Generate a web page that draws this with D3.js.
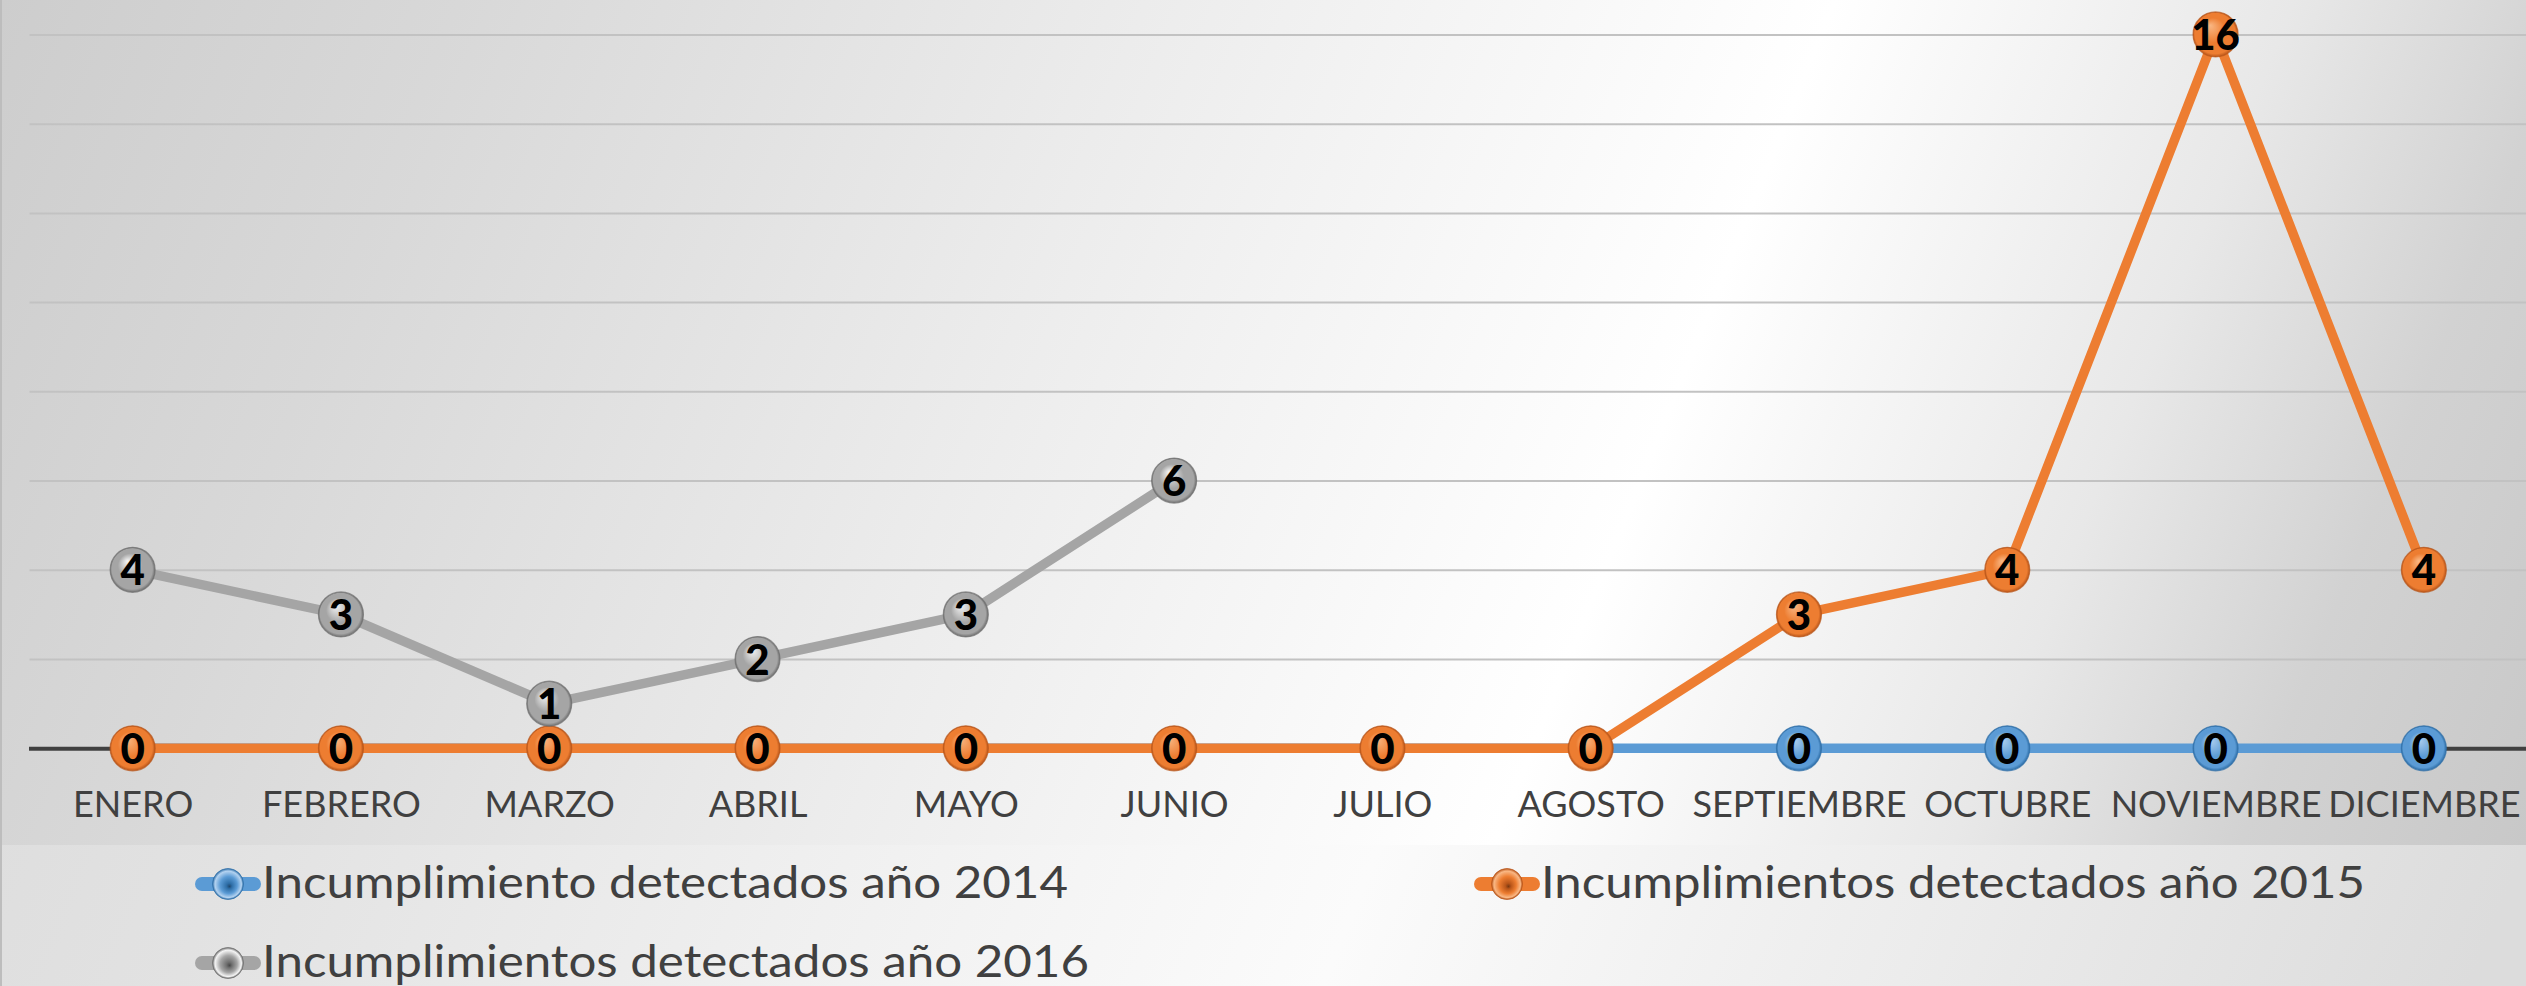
<!DOCTYPE html>
<html lang="es">
<head>
<meta charset="utf-8">
<title>Incumplimientos detectados por mes</title>
<script src="https://cdn.jsdelivr.net/npm/d3@7/dist/d3.min.js"></script>
<style>
  html, body { margin: 0; padding: 0; background: #ffffff; }
  svg { display: block; }
  .month-label { font-family: Lato, "Open Sans", sans-serif; font-size: 36px; fill: #404040; }
  .value-label { font-family: Lato, "Open Sans", sans-serif; font-size: 42px; font-weight: 900; fill: #000000; }
  .legend-label { font-family: Lato, "Open Sans", sans-serif; font-size: 45px; fill: #404040; }
</style>
</head>
<body>
<svg id="chart" width="2526" height="986"></svg>
<script>
// ---- Data ----
const months = ["ENERO", "FEBRERO", "MARZO", "ABRIL", "MAYO", "JUNIO",
                "JULIO", "AGOSTO", "SEPTIEMBRE", "OCTUBRE", "NOVIEMBRE", "DICIEMBRE"];
const values2014 = [0, 0, 0, 0, 0, 0, 0, 0, 0, 0, 0, 0];
const values2015 = [0, 0, 0, 0, 0, 0, 0, 0, 3, 4, 16, 4];
const values2016 = [4, 3, 1, 2, 3, 6, null, null, null, null, null, null];
const seriesNames = ["Incumplimiento detectados año 2014",
                     "Incumplimientos detectados año 2015",
                     "Incumplimientos detectados año 2016"];
const yTicks = [0, 2, 4, 6, 8, 10, 12, 14, 16];

// ---- Layout ----
const W = 2526, H = 986;
const plotLeft = 28.5, plotRight = 2528;
const plotTop = 34.4, plotBottom = 748.3;
const plotAreaBottom = 845;

const palette = {
  "2014": { base: "#5B9BD5", light: "#b3d2f0", dark: "#2f6fa8" },
  "2015": { base: "#ED7D31", light: "#f9b784", dark: "#b9561a" },
  "2016": { base: "#A5A5A5", light: "#f4f4f4", dark: "#6f6f6f" }
};
const series = [
  { key: "2014", name: seriesNames[0], values: values2014 },
  { key: "2015", name: seriesNames[1], values: values2015 },
  { key: "2016", name: seriesNames[2], values: values2016 }
];

const svg = d3.select("#chart");
const defs = svg.append("defs");

// Tilted background gradients (plot band and legend band)
function bgGradient(id, stops) {
  const g = defs.append("linearGradient").attr("id", id)
    .attr("gradientUnits", "userSpaceOnUse")
    .attr("x1", 0).attr("y1", 0).attr("x2", 2465).attr("y2", 997);
  stops.forEach(([o, c]) => g.append("stop").attr("offset", o).attr("stop-color", c));
}
bgGradient("bgPlot", [[0, "#cdcdcd"], [0.16, "#d8d8d8"], [0.4, "#ececec"], [0.64, "#ffffff"],
                      [0.8, "#e8e8e8"], [0.9, "#d2d2d2"], [1, "#c8c8c8"]]);
bgGradient("bgLegend", [[0, "#d9d9d9"], [0.2, "#e2e2e2"], [0.4, "#efefef"], [0.6, "#fbfbfb"],
                        [0.8, "#ececec"], [1, "#dcdcdc"]]);

// Gridline shading: lighter near the top
const gridGrad = defs.append("linearGradient").attr("id", "gridGrad")
  .attr("gradientUnits", "userSpaceOnUse")
  .attr("x1", 0).attr("y1", 0).attr("x2", 0).attr("y2", plotBottom);
gridGrad.append("stop").attr("offset", 0).attr("stop-color", "#c2c2c2");
gridGrad.append("stop").attr("offset", 1).attr("stop-color", "#8e8e8e");

// Glossy marker gradients
Object.entries(palette).forEach(([k, c]) => {
  const g = defs.append("radialGradient").attr("id", "mk" + k)
    .attr("cx", "50%").attr("cy", "50%").attr("r", "50%")
    .attr("fx", "38%").attr("fy", "30%");
  g.append("stop").attr("offset", 0).attr("stop-color", c.light);
  g.append("stop").attr("offset", 0.55).attr("stop-color", c.base);
  g.append("stop").attr("offset", 0.9).attr("stop-color", c.base);
  g.append("stop").attr("offset", 1).attr("stop-color", c.dark);

  const lg = defs.append("radialGradient").attr("id", "lg" + k)
    .attr("cx", "50%").attr("cy", "50%").attr("r", "50%")
    .attr("fx", "55%").attr("fy", "58%");
  lg.append("stop").attr("offset", 0).attr("stop-color", d3.color(c.dark).darker(1.2));
  lg.append("stop").attr("offset", 0.18).attr("stop-color", c.dark);
  lg.append("stop").attr("offset", 0.55).attr("stop-color", c.base);
  lg.append("stop").attr("offset", 0.85).attr("stop-color", c.light);
  lg.append("stop").attr("offset", 1).attr("stop-color", c.dark);
});

// Backgrounds
svg.append("rect").attr("x", 0).attr("y", 0).attr("width", W).attr("height", plotAreaBottom)
  .attr("fill", "url(#bgPlot)");
svg.append("rect").attr("x", 0).attr("y", plotAreaBottom).attr("width", W).attr("height", H - plotAreaBottom)
  .attr("fill", "url(#bgLegend)");
svg.append("line").attr("x1", 1).attr("x2", 1).attr("y1", 0).attr("y2", H)
  .attr("stroke", "#bdbdbd").attr("stroke-width", 2);

// ---- Scales ----
const x = d3.scalePoint().domain(months).range([plotLeft, plotRight]).padding(0.5);
const y = d3.scaleLinear().domain([0, 16]).range([plotBottom, plotTop]);

// Horizontal gridlines
const grid = svg.append("g").attr("transform", `translate(${plotLeft + 1},0)`)
  .call(d3.axisLeft(y).tickValues(yTicks).tickSize(-(W - plotLeft)).tickFormat(""));
grid.select(".domain").remove();
grid.selectAll(".tick line").attr("stroke", "url(#gridGrad)").attr("stroke-width", 2);

// Category axis
const xAxis = svg.append("g").attr("transform", `translate(0,${plotBottom})`)
  .call(d3.axisBottom(x).tickSize(0).tickPadding(0));
xAxis.select(".domain").attr("stroke", "#404040").attr("stroke-width", 4);
xAxis.selectAll(".tick text").attr("class", "month-label")
  .attr("y", 69).attr("dy", 0).attr("font-size", null).attr("fill", null);
xAxis.attr("font-family", null).attr("font-size", null);

// ---- Series ----
const line = d3.line()
  .defined(d => d.v !== null)
  .x(d => x(d.m))
  .y(d => y(d.v));

// A point is hidden when a series drawn later sits on exactly the same spot
function coveredLater(si, i, v) {
  return series.slice(si + 1).some(o => o.values[i] === v);
}

series.forEach((s, si) => {
  const pts = s.values.map((v, i) => ({ m: months[i], v, i }));
  const c = palette[s.key];
  const g = svg.append("g").attr("class", "series s" + s.key);
  g.append("path").datum(pts)
    .attr("d", line)
    .attr("fill", "none")
    .attr("stroke", c.base)
    .attr("stroke-width", 9.5)
    .attr("stroke-linejoin", "round");
  const mk = g.selectAll("g.pt")
    .data(pts.filter(d => d.v !== null && !coveredLater(si, d.i, d.v)))
    .join("g")
    .attr("class", "pt")
    .attr("transform", d => `translate(${x(d.m)},${y(d.v)})`);
  mk.append("circle")
    .attr("r", 22.5)
    .attr("fill", `url(#mk${s.key})`)
    .attr("stroke", c.dark)
    .attr("stroke-opacity", 0.7)
    .attr("stroke-width", 1.2);
  mk.append("text")
    .attr("class", "value-label")
    .attr("text-anchor", "middle")
    .attr("y", 15.5)
    .text(d => d.v);
});

// ---- Legend ----
const legendPos = [
  { cx: 228, cy: 884, textWidth: 806 },
  { cx: 1507, cy: 884, textWidth: 824 },
  { cx: 228, cy: 963, textWidth: 827 }
];
series.forEach((s, i) => {
  const c = palette[s.key];
  const p = legendPos[i];
  const g = svg.append("g").attr("class", "legend-item")
    .attr("transform", `translate(${p.cx},${p.cy})`);
  g.append("line").attr("x1", -26).attr("x2", 26).attr("y1", 0).attr("y2", 0)
    .attr("stroke", c.base).attr("stroke-width", 14).attr("stroke-linecap", "round");
  g.append("circle").attr("r", 15.5)
    .attr("fill", `url(#lg${s.key})`)
    .attr("stroke", c.dark).attr("stroke-opacity", 0.7).attr("stroke-width", 1);
  g.append("text").attr("class", "legend-label")
    .attr("x", 34).attr("y", 14)
    .attr("textLength", p.textWidth)
    .attr("lengthAdjust", "spacingAndGlyphs")
    .text(s.name);
});
</script>
</body>
</html>
